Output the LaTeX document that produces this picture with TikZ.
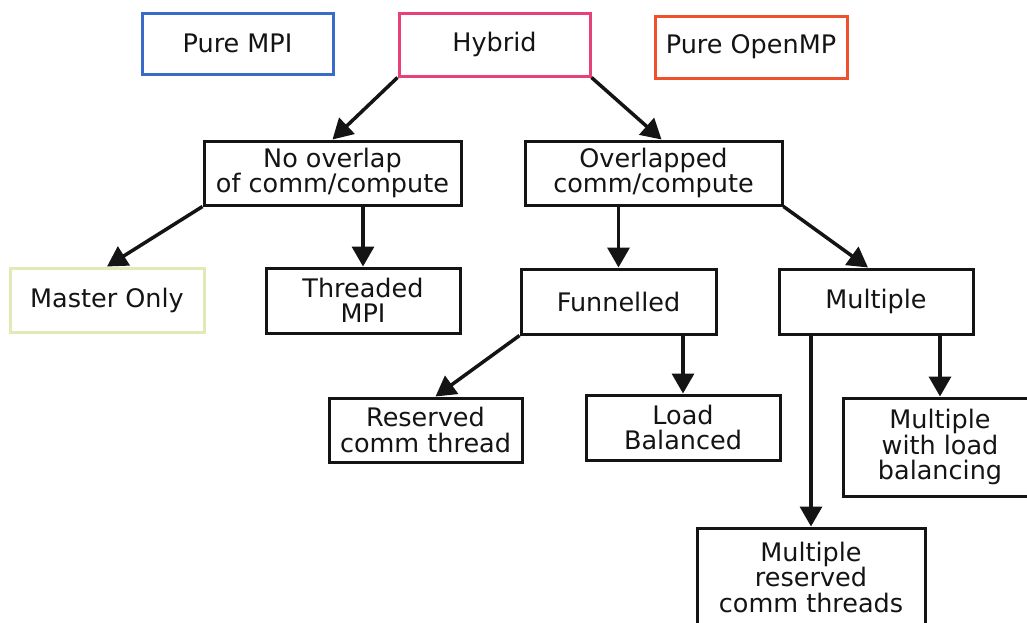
\documentclass[tikz,border=0pt]{standalone}
\usepackage{fontspec}
\setmainfont{DejaVu Sans}
\usetikzlibrary{arrows.meta}
\definecolor{mpiblue}{HTML}{3A6BC9}
\definecolor{hybpink}{HTML}{E8407A}
\definecolor{omporange}{HTML}{F0502A}
\definecolor{mastergreen}{HTML}{E1EAB4}
\definecolor{ink}{HTML}{141414}
\tikzset{
  box/.style={draw=ink, line width=3pt, align=center, inner sep=0pt,
    font=\fontsize{25.5}{25.5}\selectfont, text=ink},
  arr/.style={draw=ink, line width=3.5pt, -{Triangle[length=20pt,width=22pt]}}
}
\begin{document}
\begin{tikzpicture}[x=1pt,y=-1pt]
\useasboundingbox (0,0) rectangle (1027,622);
\clip (0,0) rectangle (1027,622);
\node[box, draw=mpiblue, minimum width=191pt, minimum height=61pt] (puremp) at (237.5,43.5) {Pure MPI};
\node[box, draw=hybpink, minimum width=191pt, minimum height=63pt] (hybrid) at (494.5,44.5) {Hybrid};
\node[box, draw=omporange, minimum width=192pt, minimum height=62pt] (pureomp) at (751,47) {Pure OpenMP};
\node[box, minimum width=257pt, minimum height=64pt] (nooverlap) at (332.5,173) {No overlap\\of comm/compute};
\node[box, minimum width=257pt, minimum height=64pt] (overlapped) at (653.5,173) {Overlapped\\comm/compute};
\node[box, draw=mastergreen, minimum width=194pt, minimum height=64pt] (master) at (107,300) {Master Only};
\node[box, minimum width=194pt, minimum height=65pt] (threaded) at (363,300.5) {Threaded\\MPI};
\node[box, minimum width=195pt, minimum height=65pt] (funnelled) at (618.5,301.5) {Funnelled};
\node[box, minimum width=194pt, minimum height=65pt] (multiple) at (876,301.5) {Multiple};
\node[box, minimum width=193pt, minimum height=64pt] (reserved) at (425.5,430) {Reserved\\comm thread};
\node[box, minimum width=194pt, minimum height=65pt] (loadbal) at (683,427.5) {Load\\Balanced};
\node[box, minimum width=194pt, minimum height=98pt] (mload) at (940,447) {Multiple\\with load\\balancing};
\node[box, minimum width=228pt, minimum height=98pt] (mreserved) at (811,577) {Multiple\\reserved\\comm threads};
\coordinate (ovtip) at ([xshift=8pt]overlapped.north);
\coordinate (multip) at ([xshift=-8pt]multiple.north);
\coordinate (restip) at ([xshift=10pt]reserved.north);
\draw[arr] (hybrid.south west) -- (nooverlap.north);
\draw[arr] (hybrid.south east) -- (ovtip);
\draw[arr] (nooverlap.south west) -- (master.north);
\draw[arr] (threaded.north |- nooverlap.south) -- (threaded.north);
\draw[arr] (funnelled.north |- overlapped.south) -- (funnelled.north);
\draw[arr] (overlapped.south east) -- (multip);
\draw[arr] (funnelled.south west) -- (restip);
\draw[arr] (loadbal.north |- funnelled.south) -- (loadbal.north);
\draw[arr] (mreserved.north |- multiple.south) -- (mreserved.north);
\draw[arr] (mload.north |- multiple.south) -- (mload.north);
\end{tikzpicture}
\end{document}
